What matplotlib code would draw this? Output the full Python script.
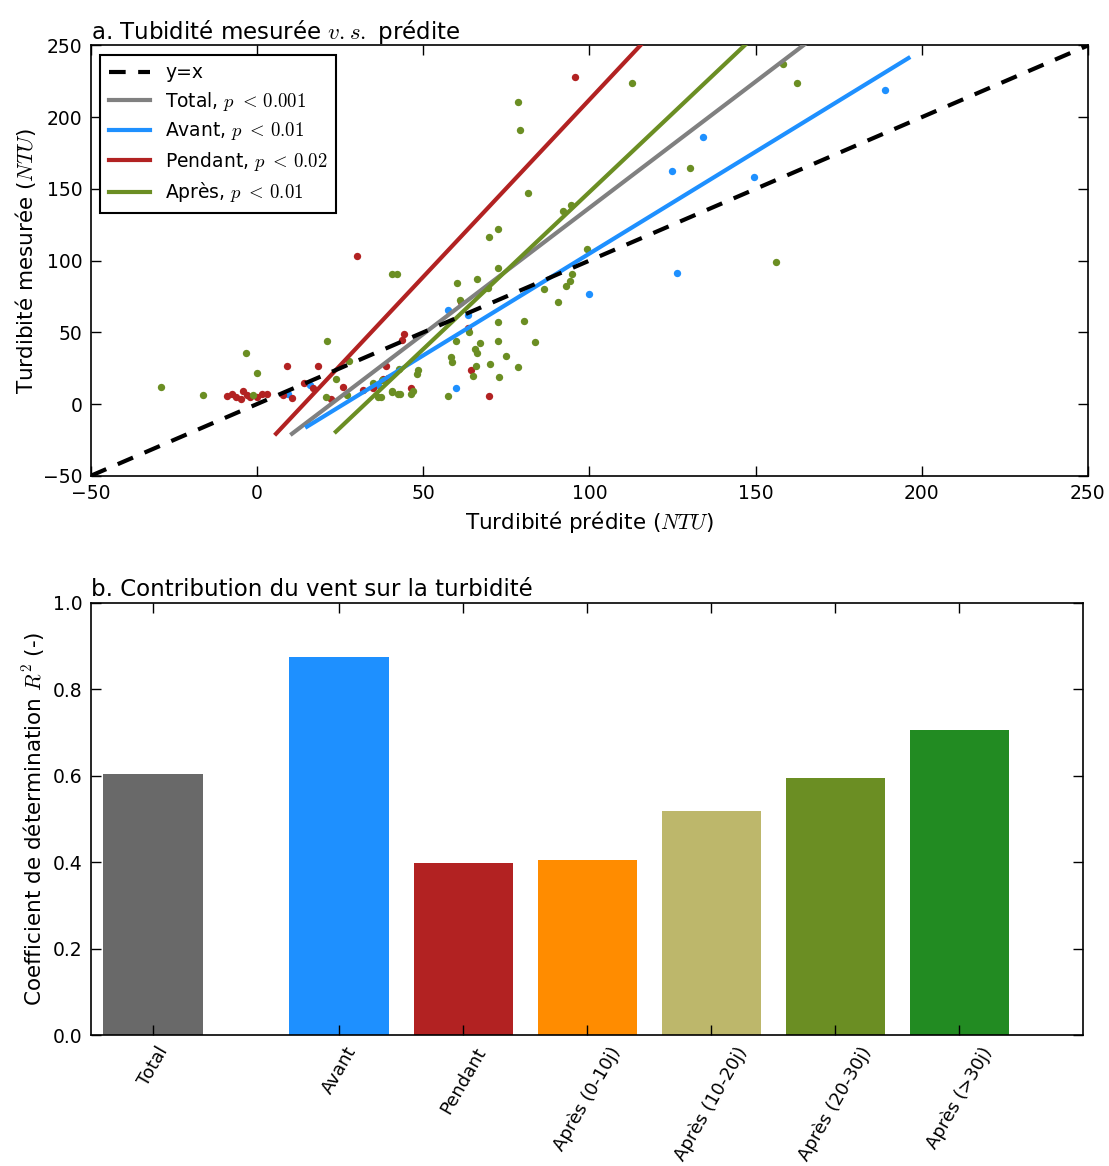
import matplotlib
matplotlib.use("Agg")
import matplotlib.pyplot as plt
import numpy as np

plt.rcParams['font.family'] = ['DejaVu Sans']
plt.rcParams['mathtext.fontset'] = 'cm'

# --- a. nuage de points (prédit, mesuré) ---
avant_x = [9.4, 15.9, 36.5, 57.5, 63.5, 59.7, 99.9, 124.7, 126.3, 134.3, 149.4, 188.9]
avant_y = [7.1, 13.4, 13.4, 65.6, 62.1, 11.3, 76.7, 162.5, 91.1, 186.2, 158.4, 219.2]

pendant_x = [-9.2, -7.7, -6.2, -4.7, -4.2, -3.1, -2.2, 0.0, 1.5, 3.0, 8.9, 7.7, 10.6,
             18.2, 14.2, 16.9, 30.1, 22.1, 25.9, 31.9, 38.8, 35.0, 38.0, 39.5, 44.3,
             43.5, 63.5, 64.5, 69.8, 46.3, 95.7, 61.5]
pendant_y = [5.7, 7.1, 5.2, 3.4, 9.4, 6.4, 5.2, 5.2, 7.1, 7.1, 26.2, 6.0, 4.2,
             26.6, 14.6, 11.1, 103.2, 3.4, 12.2, 9.9, 26.6, 11.1, 17.4, 17.8, 48.7,
             44.7, 53.3, 23.4, 5.6, 11.1, 227.7, 71.4]

apres_x = [-29.0, -16.2, -3.4, -0.05, -1.3, 21.1, 27.7, 20.6, 23.7, 27.2, 40.7, 42.0,
           36.5, 35.0, 37.5, 40.7, 42.5, 81.6, 69.8, 72.4, 91.9, 94.6, 72.4, 66.2,
           60.0, 69.5, 61.0, 63.7, 59.7, 67.1, 72.6, 80.4, 72.6, 83.6, 86.4, 90.4,
           92.8, 94.1, 94.7, 99.2, 65.5, 66.3, 58.3, 58.7, 74.9, 70.1, 78.6, 65.9,
           72.9, 65.0, 57.5, 48.5, 48.2, 42.7, 40.7, 43.0, 46.3, 47.0, 37.3, 112.9,
           158.1, 162.5, 130.2, 156.0, 78.5, 79.1]
apres_y = [11.8, 6.0, 35.4, 21.3, 6.0, 44.2, 30.1, 5.2, 17.4, 6.4, 90.6, 90.6,
           5.2, 14.6, 16.9, 8.3, 6.9, 146.8, 116.6, 121.9, 134.7, 139.1, 94.6, 86.9,
           84.2, 80.7, 72.5, 50.5, 44.2, 42.8, 57.4, 58.1, 44.0, 43.1, 80.0, 71.0,
           82.5, 86.0, 90.6, 107.8, 38.4, 35.9, 32.6, 29.2, 33.8, 28.2, 25.9, 26.2,
           19.0, 19.7, 5.7, 23.8, 20.8, 24.5, 8.8, 7.1, 6.9, 9.4, 4.8, 224.0,
           237.3, 224.0, 164.9, 99.2, 210.3, 190.8]

# régressions : pente, ordonnée à l'origine, x début, x fin
fit_labels = [r'Total, $p\ <\,0.001$', r'Avant, $p\ <\,0.01$',
              r'Pendant, $p\ <\,0.02$', r'Après, $p\ <\,0.01$']
fit_slope = [1.76, 1.42, 2.47, 2.19]
fit_inter = [-39.2, -37.1, -34.8, -71.2]
fit_xmin = [10.5, 15.0, 5.7, 23.7]
fit_xmax = [200.0, 196.0, 150.0, 200.0]
fit_colors = ['#808080', '#1E90FF', '#B22222', '#6B8E23']

# --- b. barres R² ---
bar_labels = ['Total', 'Avant', 'Pendant', 'Après (0-10j)', 'Après (10-20j)',
              'Après (20-30j)', 'Après (>30j)']
bar_pos = [0, 1.5, 2.5, 3.5, 4.5, 5.5, 6.5]
bar_r2 = [0.604, 0.875, 0.398, 0.405, 0.519, 0.595, 0.706]
bar_colors = ['#696969', '#1E90FF', '#B22222', '#FF8C00', '#BDB76B', '#6B8E23', '#228B22']

fig = plt.figure(figsize=(11.09, 11.66), dpi=100)
ax1 = fig.add_axes([0.082, 0.592, 0.899, 0.369])
ax2 = fig.add_axes([0.082, 0.112, 0.895, 0.371])

for ax in (ax1, ax2):
    ax.tick_params(direction='in', top=True, right=True, length=7, width=1,
                   labelsize=13.5, pad=6)
    for s in ax.spines.values():
        s.set_linewidth(1.2)

# nuage
ax1.scatter(avant_x, avant_y, s=28, color='#1E90FF', lw=0, zorder=2)
ax1.scatter(pendant_x, pendant_y, s=28, color='#B22222', lw=0, zorder=2)
ax1.scatter(apres_x, apres_y, s=28, color='#6B8E23', lw=0, zorder=2)

ident = np.array([-50, 250])
ax1.plot(ident, ident, 'k--', lw=3, dashes=(4, 3), label='y=x', zorder=4)
for lab, a, b, x0, x1, c in zip(fit_labels, fit_slope, fit_inter, fit_xmin, fit_xmax, fit_colors):
    xx = np.array([x0, x1])
    ax1.plot(xx, a * xx + b, color=c, lw=3, label=lab, zorder=3)

ax1.set_xlim(-50, 250)
ax1.set_ylim(-50, 250)
ax1.set_xticks(np.arange(-50, 251, 50))
ax1.set_yticks(np.arange(-50, 251, 50))
ax1.set_xlabel(r'Turdibité prédite ($NTU$)', fontsize=15.5)
ax1.set_ylabel(r'Turdibité mesurée ($NTU$)', fontsize=15.5)
ax1.set_title(r'a. Tubidité mesurée $v.s.$ prédite', loc='left', fontsize=16.5, pad=5)
leg = ax1.legend(loc='upper left', fontsize=13.5, fancybox=False, framealpha=1,
                 edgecolor='black', handlelength=2.2, borderpad=0.45, labelspacing=0.4)
leg.get_frame().set_linewidth(1.5)

# barres
ax2.bar(bar_pos, bar_r2, width=0.8, color=bar_colors, edgecolor='none')
ax2.set_xlim(-0.5, 7.5)
ax2.set_ylim(0, 1.0)
ax2.set_xticks(bar_pos)
ax2.set_xticklabels(bar_labels, rotation=60, fontsize=13)
ax2.set_yticks(np.arange(0, 1.01, 0.2))
ax2.set_ylabel(r'Coefficient de détermination $R^2$ (-)', fontsize=15.5)
ax2.set_title('b. Contribution du vent sur la turbidité', loc='left', fontsize=16.5, pad=5)

fig.savefig('out.png', dpi=100)
